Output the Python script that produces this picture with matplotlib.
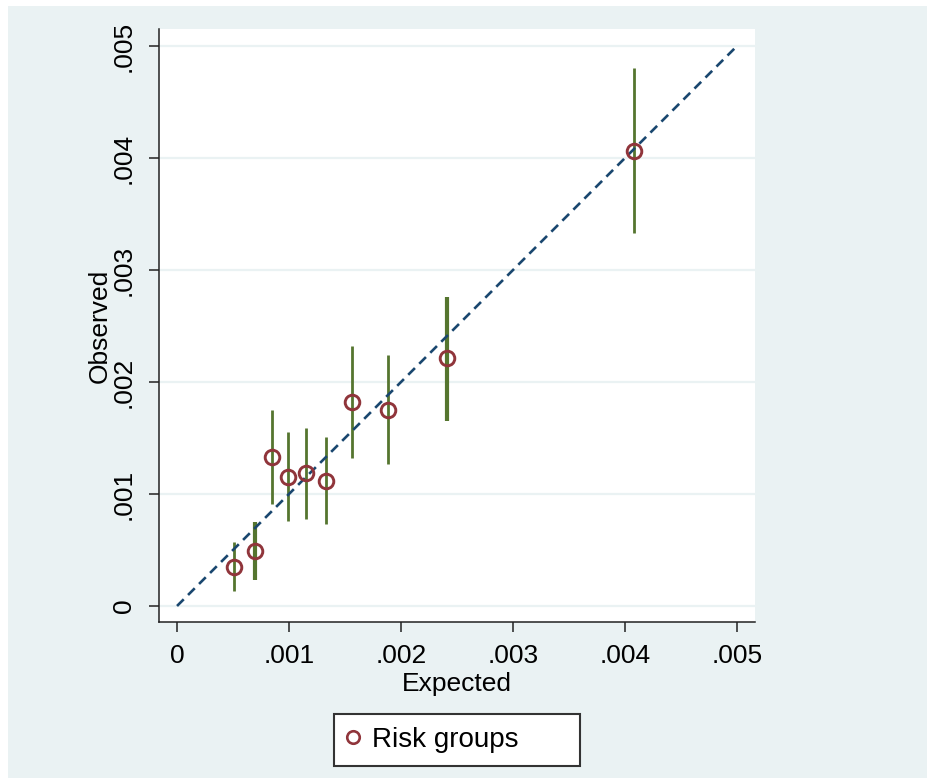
import matplotlib
matplotlib.use('Agg')
import matplotlib.pyplot as plt
from matplotlib.patches import Rectangle
from matplotlib.lines import Line2D

plt.rcParams['font.family'] = ['Liberation Sans', 'DejaVu Sans']

# calibration by risk group: expected vs observed rate with 95% CI
expected = [0.00051, 0.00070, 0.00085, 0.00099, 0.00115, 0.00133, 0.00156, 0.00188, 0.00241, 0.00408]
observed = [0.00035, 0.00049, 0.00133, 0.00115, 0.00119, 0.00112, 0.00182, 0.00175, 0.00221, 0.00406]
ci_low   = [0.00013, 0.00023, 0.00091, 0.00076, 0.00078, 0.00073, 0.00132, 0.00127, 0.00165, 0.00333]
ci_high  = [0.00057, 0.00075, 0.00175, 0.00155, 0.00159, 0.00151, 0.00232, 0.00224, 0.00276, 0.00480]

ticks = [0, 0.001, 0.002, 0.003, 0.004, 0.005]
tick_labels = ['0', '.001', '.002', '.003', '.004', '.005']
ref_line = [0, 0.005]

bg = '#eaf2f3'
maroon = '#90353b'
green = '#55752f'
navy = '#1a476f'
fs = 19

fig = plt.figure(figsize=(9.27, 7.78), dpi=100, facecolor='white')
fig.patches.append(Rectangle((8/927, 0), 1, 772/778, transform=fig.transFigure,
                             facecolor=bg, edgecolor='none', zorder=-1))

ax = fig.add_axes([159/927, 156/778, 596/927, 593/778])
ax.set_facecolor('white')

# bars a bit heavier where the spikes render thicker
bar_w = [2.0, 3.0, 2.0, 2.0, 2.0, 2.0, 2.0, 2.0, 3.0, 2.0]
ax.vlines(expected, ci_low, ci_high, colors=green, linewidth=bar_w, zorder=3)
ax.plot(ref_line, ref_line, color=navy, linestyle=(0, (3.6, 2.3)), linewidth=1.9, zorder=4)
ax.plot(expected, observed, linestyle='none', marker='o', markersize=10.5,
        markerfacecolor='none', markeredgecolor=maroon, markeredgewidth=2.1, zorder=5)

ax.set_xlim(-0.000161, 0.005161)
ax.set_ylim(-0.000143, 0.005152)
ax.set_xticks(ticks)
ax.set_xticklabels(tick_labels)
ax.set_yticks(ticks)
ax.set_yticklabels(tick_labels, rotation=90, va='center')

ax.grid(axis='y', color=bg, linewidth=1.6)
ax.set_axisbelow(True)
for s in ['top', 'right']:
    ax.spines[s].set_visible(False)
for s in ['left', 'bottom']:
    ax.spines[s].set_color('#222222')
    ax.spines[s].set_linewidth(1.1)
ax.tick_params(direction='out', length=7.5, width=1.1, color='#222222', labelsize=fs)
ax.tick_params(axis='x', pad=8)
ax.tick_params(axis='y', pad=9)

ax.set_xlabel('Expected', fontsize=fs)
ax.set_ylabel('Observed', fontsize=fs)
ax.xaxis.label.set_va('center')
ax.yaxis.label.set_va('center')
ax.xaxis.set_label_coords(0.5, -0.1046)
ax.yaxis.set_label_coords(-0.1, 0.5)

# legend box below the plot region
fig.patches.append(Rectangle((334/927, 12/778), 246/927, 52/778, transform=fig.transFigure,
                             facecolor='white', edgecolor='#333333', linewidth=1.5, zorder=1))
handle = Line2D([], [], linestyle='none', marker='o', markersize=9,
                markerfacecolor='none', markeredgecolor=maroon, markeredgewidth=1.9)
fig.legend([handle], ['Risk groups'], loc='center left', bbox_to_anchor=(325/927, 38/778),
           frameon=False, fontsize=20, handlelength=1.0, handletextpad=0.2, borderpad=0)

fig.savefig('out.png', dpi=100, facecolor=fig.get_facecolor())
